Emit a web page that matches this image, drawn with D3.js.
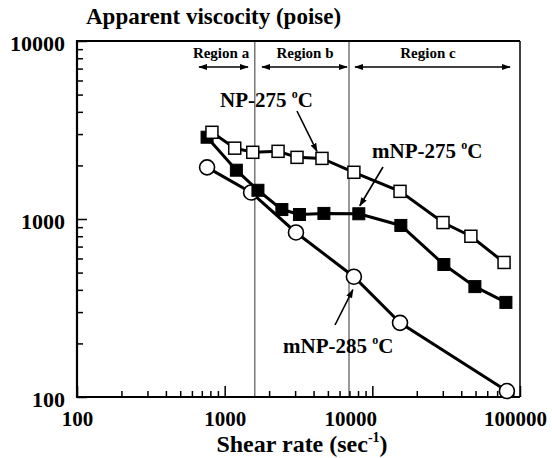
<!DOCTYPE html>
<html>
<head>
<meta charset="utf-8">
<script src="https://cdn.jsdelivr.net/npm/d3@7"></script>
<style>
  body { margin: 0; background: #fff; }
  text { font-family: "Liberation Serif", "Times New Roman", serif; font-weight: bold; }
</style>
</head>
<body>
<div id="art"></div>
<script>
// shear rate (sec^-1) and apparent viscosity (poise)
const np275X = [820, 1170, 1550, 2300, 3090, 4560, 7500, 15400, 30100, 46500, 78000];
const np275Y = [3070, 2500, 2370, 2400, 2220, 2190, 1830, 1430, 955, 800, 570];

const mnp275X = [760, 1200, 1680, 2440, 3210, 4700, 8100, 15600, 30500, 49500, 80300];
const mnp275Y = [2880, 1880, 1450, 1130, 1060, 1075, 1070, 920, 555, 417, 340];

const mnp285X = [760, 1510, 3040, 7500, 15400, 81500];
const mnp285Y = [1950, 1410, 840, 474, 261, 108];

const xTicks = [100, 1000, 10000, 100000];
const yTicks = [100, 1000, 10000];
const regionBounds = [1600, 6950];
const regionNames = ["Region a", "Region b", "Region c"];

function art() {
  const width = 552;
  const height = 458;

  const svg = d3.select("#art")
    .append("svg")
    .attr("width", width)
    .attr("height", height);

  const x = d3.scaleLog().domain([100, 100000]).range([77, 520]);
  const y = d3.scaleLog().domain([100, 10000]).range([397, 41]);

  const x0 = x.range()[0], x1 = x.range()[1];
  const yb = y.range()[0], yt = y.range()[1];

  // region dividers
  svg.selectAll("line.region")
    .data(regionBounds)
    .enter()
    .append("line")
    .attr("x1", d => x(d)).attr("x2", d => x(d))
    .attr("y1", yt).attr("y2", yb)
    .style("stroke", "#555")
    .style("stroke-width", 1.2);

  // arrow heads
  const defs = svg.append("defs");
  defs.append("marker")
    .attr("id", "head")
    .attr("viewBox", "0 0 10 10")
    .attr("refX", 9).attr("refY", 5)
    .attr("markerWidth", 9).attr("markerHeight", 9)
    .attr("markerUnits", "userSpaceOnUse")
    .attr("orient", "auto-start-reverse")
    .append("path")
    .attr("d", "M0,1.5 L10,5 L0,8.5 Z")
    .style("fill", "#000");

  // region labels with double arrows
  const regionSpan = [[199, 248], [262, 347], [355, 510]];
  const regionCx = [221, 305, 428];
  regionNames.forEach((name, i) => {
    svg.append("text")
      .attr("x", regionCx[i])
      .attr("y", 58)
      .attr("text-anchor", "middle")
      .style("font-size", "15px")
      .text(name);
    svg.append("line")
      .attr("x1", regionSpan[i][0]).attr("x2", regionSpan[i][1])
      .attr("y1", 67).attr("y2", 67)
      .style("stroke", "#000")
      .style("stroke-width", 1.6)
      .attr("marker-start", "url(#head)")
      .attr("marker-end", "url(#head)");
  });

  // axes
  const xMinor = x.ticks().filter(d => !xTicks.includes(d));
  const yMinor = y.ticks().filter(d => !yTicks.includes(d));

  const xAxis = svg.append("g")
    .attr("transform", `translate(0,${yb})`)
    .call(d3.axisBottom(x).tickValues(xTicks).tickSize(-11).tickPadding(14)
      .tickFormat(d3.format("d")));
  svg.append("g")
    .attr("transform", `translate(0,${yb})`)
    .call(d3.axisBottom(x).tickValues(xMinor).tickSize(-6).tickFormat(""));

  const yAxis = svg.append("g")
    .attr("transform", `translate(${x0},0)`)
    .call(d3.axisLeft(y).tickValues(yTicks).tickSize(-10).tickPadding(12)
      .tickFormat(d3.format("d")));
  svg.append("g")
    .attr("transform", `translate(${x0},0)`)
    .call(d3.axisLeft(y).tickValues(yMinor).tickSize(-6).tickFormat(""));

  svg.selectAll(".domain").remove();
  svg.selectAll(".tick line").style("stroke", "#000").style("stroke-width", 1.5);
  svg.selectAll(".tick text")
    .style("font-size", "21px")
    .style("font-family", "'Liberation Serif', serif")
    .style("font-weight", "bold")
    .style("fill", "#000");
  yAxis.selectAll(".tick text").attr("dy", "0.45em").style("font-size", "22px");
  // the printed 10000 sits a little left of its tick
  xAxis.selectAll(".tick text").attr("dx", d => d === 10000 ? -22 : d === 100000 ? -5 : 0);

  // frame
  svg.append("path")
    .attr("d", `M${x1},${yt} L${x0},${yt} L${x0},${yb} L${x1},${yb}`)
    .style("fill", "none").style("stroke", "#000").style("stroke-width", 2.2);
  svg.append("line")
    .attr("x1", x1).attr("x2", x1).attr("y1", yt).attr("y2", yb)
    .style("stroke", "#000").style("stroke-width", 1.5);

  // series
  const line = d3.line().x(d => x(d[0])).y(d => y(d[1]));
  const np275 = d3.zip(np275X, np275Y);
  const mnp275 = d3.zip(mnp275X, mnp275Y);
  const mnp285 = d3.zip(mnp285X, mnp285Y);

  [mnp285, mnp275, np275].forEach(s => {
    svg.append("path")
      .datum(s)
      .attr("d", line)
      .style("fill", "none")
      .style("stroke", "#000")
      .style("stroke-width", 3);
  });

  const side = 12;
  svg.selectAll("circle.mnp285")
    .data(mnp285)
    .enter()
    .append("circle")
    .attr("cx", d => x(d[0]))
    .attr("cy", d => y(d[1]))
    .attr("r", 7.5)
    .style("fill", "#fff")
    .style("stroke", "#000")
    .style("stroke-width", 1.6);

  svg.selectAll("rect.mnp275")
    .data(mnp275)
    .enter()
    .append("rect")
    .attr("x", d => x(d[0]) - side / 2)
    .attr("y", d => y(d[1]) - side / 2)
    .attr("width", side).attr("height", side)
    .style("fill", "#000")
    .style("stroke", "#000")
    .style("stroke-width", 1);

  svg.selectAll("rect.np275")
    .data(np275)
    .enter()
    .append("rect")
    .attr("x", d => x(d[0]) - side / 2)
    .attr("y", d => y(d[1]) - side / 2)
    .attr("width", side).attr("height", side)
    .style("fill", "#fff")
    .style("stroke", "#000")
    .style("stroke-width", 1.5);

  // labels with arrows pointing at a point of each series
  function label(name, tx, ty, from, pt, off) {
    const t = svg.append("text")
      .attr("x", tx).attr("y", ty)
      .style("font-size", "21px");
    t.append("tspan").text(name + " ");
    t.append("tspan").attr("dy", -9).style("font-size", "12px").text("o");
    t.append("tspan").attr("dy", 9).text("C");
    svg.append("line")
      .attr("x1", from[0]).attr("y1", from[1])
      .attr("x2", x(pt[0]) + off[0]).attr("y2", y(pt[1]) + off[1])
      .style("stroke", "#000")
      .style("stroke-width", 1.6)
      .attr("marker-end", "url(#head)");
  }
  label("NP-275", 220, 107, [297, 111], np275[5], [-5, -7]);
  label("mNP-275", 372, 158, [383, 167], mnp275[6], [1, -8]);
  label("mNP-285", 283, 353, [335, 325], mnp285[3], [-1, 13]);

  // titles
  svg.append("text")
    .attr("x", 86).attr("y", 24)
    .style("font-size", "23px")
    .text("Apparent viscocity (poise)");

  const xt = svg.append("text")
    .attr("x", 302).attr("y", 452)
    .attr("text-anchor", "middle")
    .style("font-size", "24px");
  xt.append("tspan").text("Shear rate (sec");
  xt.append("tspan").attr("dy", -10).style("font-size", "14px").text("-1");
  xt.append("tspan").attr("dy", 10).text(")");
}

window.onload = function () {
  art();
};
</script>
</body>
</html>
